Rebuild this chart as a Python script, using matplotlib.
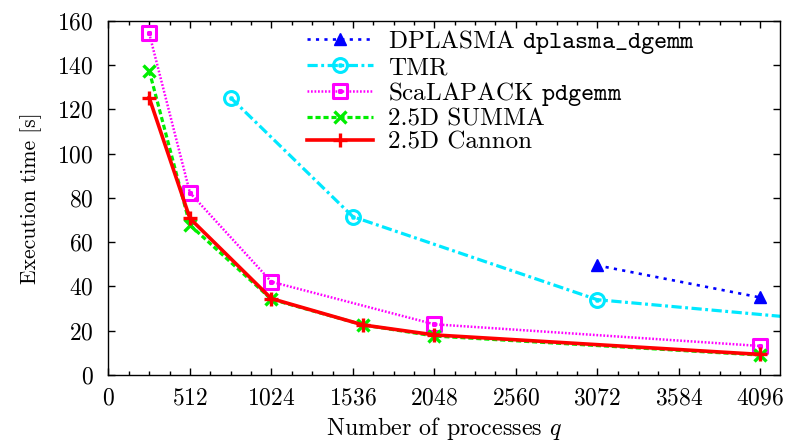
import matplotlib
matplotlib.use("Agg")
import matplotlib.pyplot as plt
from matplotlib.path import Path
from matplotlib.ticker import MultipleLocator

plt.rcParams['font.family'] = ['cmr10', 'DejaVu Serif']
plt.rcParams['mathtext.fontset'] = 'cm'
plt.rcParams['axes.formatter.use_mathtext'] = True
plt.rcParams['font.size'] = 17

# ---- data ----
dplasma_q = [3072, 4096]
dplasma_t = [49.5, 35.0]

tmr_q = [768, 1536, 3072, 4608]
tmr_t = [125.2, 71.5, 34.0, 24.0]

scalapack_q = [256, 512, 1024, 2048, 4096]
scalapack_t = [154.3, 82.3, 42.1, 22.9, 13.1]

summa_q = [256, 512, 1024, 1600, 2048, 4096]
summa_t = [137.4, 67.7, 34.2, 22.6, 17.6, 9.0]

cannon_q = [256, 512, 1024, 1600, 2048, 4096]
cannon_t = [125.2, 70.7, 34.5, 22.6, 18.1, 9.3]

xticks = [0, 512, 1024, 1536, 2048, 2560, 3072, 3584, 4096]
yticks = [0, 20, 40, 60, 80, 100, 120, 140, 160]

labels = [r'DPLASMA $\mathtt{dplasma\_dgemm}$', 'TMR',
          r'ScaLAPACK $\mathtt{pdgemm}$', '2.5D SUMMA', '2.5D Cannon']

# custom markers with centre dot
def dotted_square():
    outer = Path([(-1, -1), (1, -1), (1, 1), (-1, 1), (-1, -1)],
                 [Path.MOVETO, Path.LINETO, Path.LINETO, Path.LINETO, Path.CLOSEPOLY])
    s = 0.12
    inner = Path([(-s, -s), (s, -s), (s, s), (-s, s), (-s, -s)],
                 [Path.MOVETO, Path.LINETO, Path.LINETO, Path.LINETO, Path.CLOSEPOLY])
    return Path.make_compound_path(outer, inner)

def dotted_circle():
    outer = Path.unit_circle()
    s = 0.1
    inner = Path([(-s, -s), (s, -s), (s, s), (-s, s), (-s, -s)],
                 [Path.MOVETO, Path.LINETO, Path.LINETO, Path.LINETO, Path.CLOSEPOLY])
    return Path.make_compound_path(outer, inner)

fig = plt.figure(figsize=(7.9, 4.46), dpi=100)
ax = fig.add_axes([0.1373, 0.1592, 0.9873 - 0.1373, 0.9536 - 0.1592])

ax.plot(dplasma_q, dplasma_t, color='#0000ff', lw=1.9, ls=(0, (1.2, 2.0)),
        marker='^', ms=8, label=labels[0])
ax.plot(tmr_q, tmr_t, color='#00e8ff', lw=2.3, ls=(0, (3.2, 1.1, 0.9, 1.1)),
        marker=dotted_circle(), ms=10, mfc='none', mew=2.2, label=labels[1])
ax.plot(scalapack_q, scalapack_t, color='#ff00ff', lw=1.8, ls=(0, (0.7, 0.7)),
        marker=dotted_square(), ms=9.5, mfc='none', mew=2.2, label=labels[2])
ax.plot(summa_q, summa_t, color='#00ee00', lw=2.3, ls=(0, (1.6, 0.9)),
        marker='x', ms=8, mew=2.4, label=labels[3])
ax.plot(cannon_q, cannon_t, color='#ff0000', lw=2.6, ls='-',
        marker='+', ms=10, mew=2.4, label=labels[4])

ax.set_xlim(0, 4220)
ax.set_ylim(0, 160)
ax.set_xticks(xticks)
ax.set_yticks(yticks)
ax.xaxis.set_minor_locator(MultipleLocator(128))
ax.tick_params(which='both', direction='in', top=True, right=True, width=1.0,
               labelsize=17)
ax.tick_params(which='major', length=5)
ax.tick_params(which='minor', length=3)
ax.tick_params(axis='x', pad=9)
ax.tick_params(axis='y', pad=10.5)
for sp in ax.spines.values():
    sp.set_linewidth(1.0)

ax.set_xlabel(r'Number of processes $q$', fontsize=17.3, labelpad=4)
ax.set_ylabel('Execution time [s]', fontsize=15.5, labelpad=11)

leg = ax.legend(loc='upper left', bbox_to_anchor=(0.285, 1.0), frameon=False,
                fontsize=18, handlelength=2.63, handletextpad=0.6,
                labelspacing=0.02, borderpad=0.3, borderaxespad=0.0)

fig.savefig('out.png', dpi=100)
